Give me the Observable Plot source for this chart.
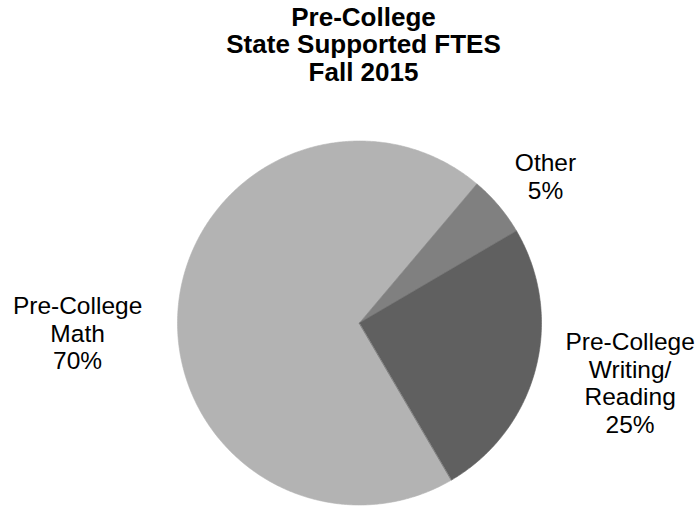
<!DOCTYPE html>
<html><head><meta charset="utf-8">
<script src="https://cdn.jsdelivr.net/npm/d3@7"></script>
<script src="https://cdn.jsdelivr.net/npm/@observablehq/plot@0.6"></script>
<style>
body{margin:0;background:#fff;width:699px;height:506px;overflow:hidden;}
#title{box-sizing:border-box;height:88px;padding-top:3.9px;padding-left:28px;width:699px;font:bold 26px "Liberation Sans",Arial,sans-serif;line-height:27.6px;text-align:center;color:#000;}
#chart svg{display:block;}
</style></head><body>
<div id="title">Pre-College<br>State Supported FTES<br>Fall 2015</div>
<div id="chart"></div>
<script>
// ---- data ----
const categories = ["Pre-College Math", "Other", "Pre-College Writing/Reading"];
const labelNames = ["Pre-College\nMath", "Other", "Pre-College\nWriting/\nReading"];
const values = [69.6, 5.4, 25.0];
const colors = ["#b3b3b3", "#808080", "#606060"];

// ---- layout (not data) ----
const startDeg = 149.6;               // rotation of the first slice
const labelAnchors = [[-1.549, -0.054], [1.022, 0.808], [1.487, -0.327]]; // in pie-radius units

const total = d3.sum(values);
const arcs = d3.pie().sort(null).value(d => d)
  .startAngle(startDeg * Math.PI / 180)
  .endAngle(startDeg * Math.PI / 180 + 2 * Math.PI)(values);

const slicePts = [];
arcs.forEach((a, i) => {
  const name = categories[i];
  slicePts.push({name, x: 0, y: 0});
  const n = Math.max(2, Math.ceil((a.endAngle - a.startAngle) / (Math.PI / 360)));
  for (let k = 0; k <= n; k++) {
    const t = a.startAngle + (a.endAngle - a.startAngle) * k / n;
    slicePts.push({name, x: Math.sin(t), y: Math.cos(t)});
  }
});

const labels = categories.map((c, i) => ({
  name: c,
  x: labelAnchors[i][0],
  y: labelAnchors[i][1],
  text: labelNames[i] + "\n" + Math.round(values[i] / total * 100) + "%"
}));

const cx = 359, cy = 234.5, R = 182;
const chart = Plot.plot({
  width: 699,
  height: 418,
  margin: 0,
  style: {fontFamily: "'Liberation Sans', Arial, sans-serif", background: "#fff", overflow: "visible"},
  x: {domain: [-1, 1], range: [cx - R, cx + R], axis: null},
  y: {domain: [-1, 1], range: [cy + R, cy - R], axis: null},
  color: {domain: categories, range: colors},
  marks: [
    Plot.line(slicePts, {x: "x", y: "y", z: "name", fill: "name", stroke: "name", strokeWidth: 0.6, curve: "linear-closed"}),
    Plot.text(labels, {x: "x", y: "y", text: "text", fontSize: 24.5, lineHeight: 1.127, lineAnchor: "middle", textAnchor: "middle", fill: "#000"})
  ]
});
document.getElementById("chart").appendChild(chart);
</script>
</body></html>
